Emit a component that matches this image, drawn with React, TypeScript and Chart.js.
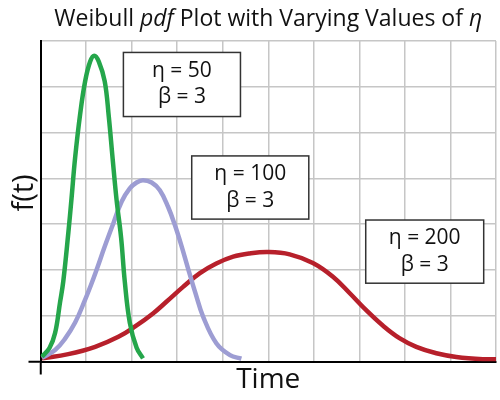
import { useEffect, useRef } from "react";
import { Chart, registerables } from "chart.js";
Chart.register(...registerables);

// Curve samples (x: time grid units, y: f(t) grid units)
const greenX = [0.03, 0.2, 0.32, 0.43, 0.5, 0.61, 0.68, 0.76, 0.87, 0.98, 1.09, 1.18, 1.28, 1.41, 1.5, 1.58, 1.67, 1.77, 1.85, 1.96, 2.11, 2.25];
const greenY = [0.1, 0.3, 0.62, 1.3, 1.75, 2.8, 3.55, 4.45, 5.4, 6.12, 6.55, 6.68, 6.55, 6.12, 5.34, 4.47, 3.53, 2.7, 1.75, 0.85, 0.3, 0.07];

const blueX = [0.03, 0.32, 0.54, 0.76, 0.98, 1.1, 1.23, 1.41, 1.6, 1.78, 1.96, 2.11, 2.25, 2.44, 2.62, 2.8, 2.95, 3.1, 3.24, 3.4, 3.57, 3.86, 4.16, 4.41];
const blueY = [0.08, 0.25, 0.5, 0.85, 1.35, 1.65, 2.0, 2.51, 3.02, 3.49, 3.78, 3.91, 3.96, 3.91, 3.74, 3.38, 2.98, 2.51, 2.03, 1.5, 0.98, 0.4, 0.14, 0.06];

const redX = [0.03, 0.61, 1.2, 1.71, 2.07, 2.47, 2.77, 3.13, 3.5, 3.86, 4.23, 4.59, 5.0, 5.47, 5.98, 6.42, 6.79, 7.15, 7.52, 7.88, 8.25, 8.69, 9.13, 9.71, 10];
const redY = [0.07, 0.16, 0.32, 0.54, 0.76, 1.05, 1.31, 1.63, 1.93, 2.14, 2.29, 2.36, 2.39, 2.34, 2.15, 1.85, 1.49, 1.12, 0.78, 0.51, 0.32, 0.18, 0.1, 0.05, 0.05];

const seriesNames = ["η = 50", "η = 100", "η = 200"];
const shapeLabels = ["β = 3", "β = 3", "β = 3"];
// annotation boxes in data units: [xMin, xMax, yTop, yBottom]
const boxX0 = [1.82, 3.32, 7.14];
const boxX1 = [4.39, 5.89, 9.73];
const boxY0 = [6.75, 4.49, 3.09];
const boxY1 = [5.35, 3.11, 1.71];

const FONT = '"Open Sans", "Noto Sans", sans-serif';

const pts = (xs: number[], ys: number[]) => xs.map((x, i) => ({ x, y: ys[i] }));

const decorPlugin = {
  id: "decor",
  afterDatasetsDraw(chart: any) {
    const { ctx, chartArea, scales } = chart;
    const xs = scales.x;
    const ys = scales.y;
    ctx.save();
    // annotation boxes
    for (let i = 0; i < seriesNames.length; i++) {
      const l = xs.getPixelForValue(boxX0[i]);
      const r = xs.getPixelForValue(boxX1[i]);
      const t = ys.getPixelForValue(boxY0[i]);
      const b = ys.getPixelForValue(boxY1[i]);
      ctx.fillStyle = "#ffffff";
      ctx.fillRect(l, t, r - l, b - t);
      ctx.strokeStyle = "#333333";
      ctx.lineWidth = 1.5;
      ctx.strokeRect(l, t, r - l, b - t);
      const cx = (l + r) / 2;
      const cy = (t + b) / 2;
      ctx.fillStyle = "#111111";
      ctx.font = `21px ${FONT}`;
      ctx.textAlign = "center";
      ctx.textBaseline = "alphabetic";
      ctx.fillText(seriesNames[i], cx, cy - 7.5);
      ctx.fillText(shapeLabels[i], cx, cy + 19);
    }
    // title with italic parts
    const parts: [string, boolean][] = [
      ["Weibull ", false],
      ["pdf", true],
      [" Plot with Varying Values of ", false],
      ["η", true],
    ];
    const fontFor = (it: boolean) => `${it ? "italic " : ""}23px ${FONT}`;
    let total = 0;
    for (const [s, it] of parts) {
      ctx.font = fontFor(it);
      total += ctx.measureText(s).width;
    }
    let x = (chartArea.left + chartArea.right) / 2 - total / 2;
    ctx.textAlign = "left";
    ctx.fillStyle = "#111111";
    for (const [s, it] of parts) {
      ctx.font = fontFor(it);
      ctx.fillText(s, x, 26);
      x += ctx.measureText(s).width;
    }
    // axis titles
    ctx.font = `28px ${FONT}`;
    ctx.textAlign = "center";
    ctx.fillText("Time", (chartArea.left + chartArea.right) / 2, 388);
    ctx.save();
    ctx.translate(33, 193);
    ctx.rotate(-Math.PI / 2);
    ctx.font = `29px ${FONT}`;
    ctx.fillText("f(t)", 0, 0);
    ctx.restore();
    ctx.restore();
  },
};

export default function App() {
  const ref = useRef<HTMLCanvasElement | null>(null);
  useEffect(() => {
    if (!ref.current) return;
    const tickCol = (c: any) => (c.tick && c.tick.value === 0 ? "#000000" : "rgba(0,0,0,0)");
    const ds = (xs: number[], ys: number[], color: string) => ({
      data: pts(xs, ys),
      borderColor: color,
      borderWidth: 4.5,
      pointRadius: 0,
      tension: 0.4,
      fill: false,
    });
    const chart = new Chart(ref.current, {
      type: "line",
      data: {
        datasets: [
          ds(greenX, greenY, "#25a64b"),
          ds(blueX, blueY, "#9d9dd3"),
          ds(redX, redY, "#b7202b"),
        ],
      },
      options: {
        responsive: false,
        animation: false,
        layout: { padding: { left: 28.5, right: 4, top: 41, bottom: 25.5 } },
        plugins: { legend: { display: false }, tooltip: { enabled: false }, title: { display: false } },
        scales: {
          x: {
            type: "linear",
            min: 0,
            max: 10,
            ticks: { stepSize: 1, display: false },
            grid: { color: "#c6c6c6", lineWidth: 1.5, tickLength: 13, tickColor: tickCol, tickWidth: 2 },
            border: { display: true, color: "#000000", width: 2 },
          },
          y: {
            type: "linear",
            min: 0,
            max: 7,
            ticks: { stepSize: 1, display: false },
            grid: { color: "#c6c6c6", lineWidth: 1.5, tickLength: 12, tickColor: tickCol, tickWidth: 2 },
            border: { display: true, color: "#000000", width: 2 },
          },
        },
      },
      plugins: [decorPlugin],
    } as any);
    return () => chart.destroy();
  }, []);
  return (
    <div style={{ position: "absolute", left: 0, top: 0, width: 500, height: 400, background: "#fff" }}>
      <canvas ref={ref} width={500} height={400} />
    </div>
  );
}
